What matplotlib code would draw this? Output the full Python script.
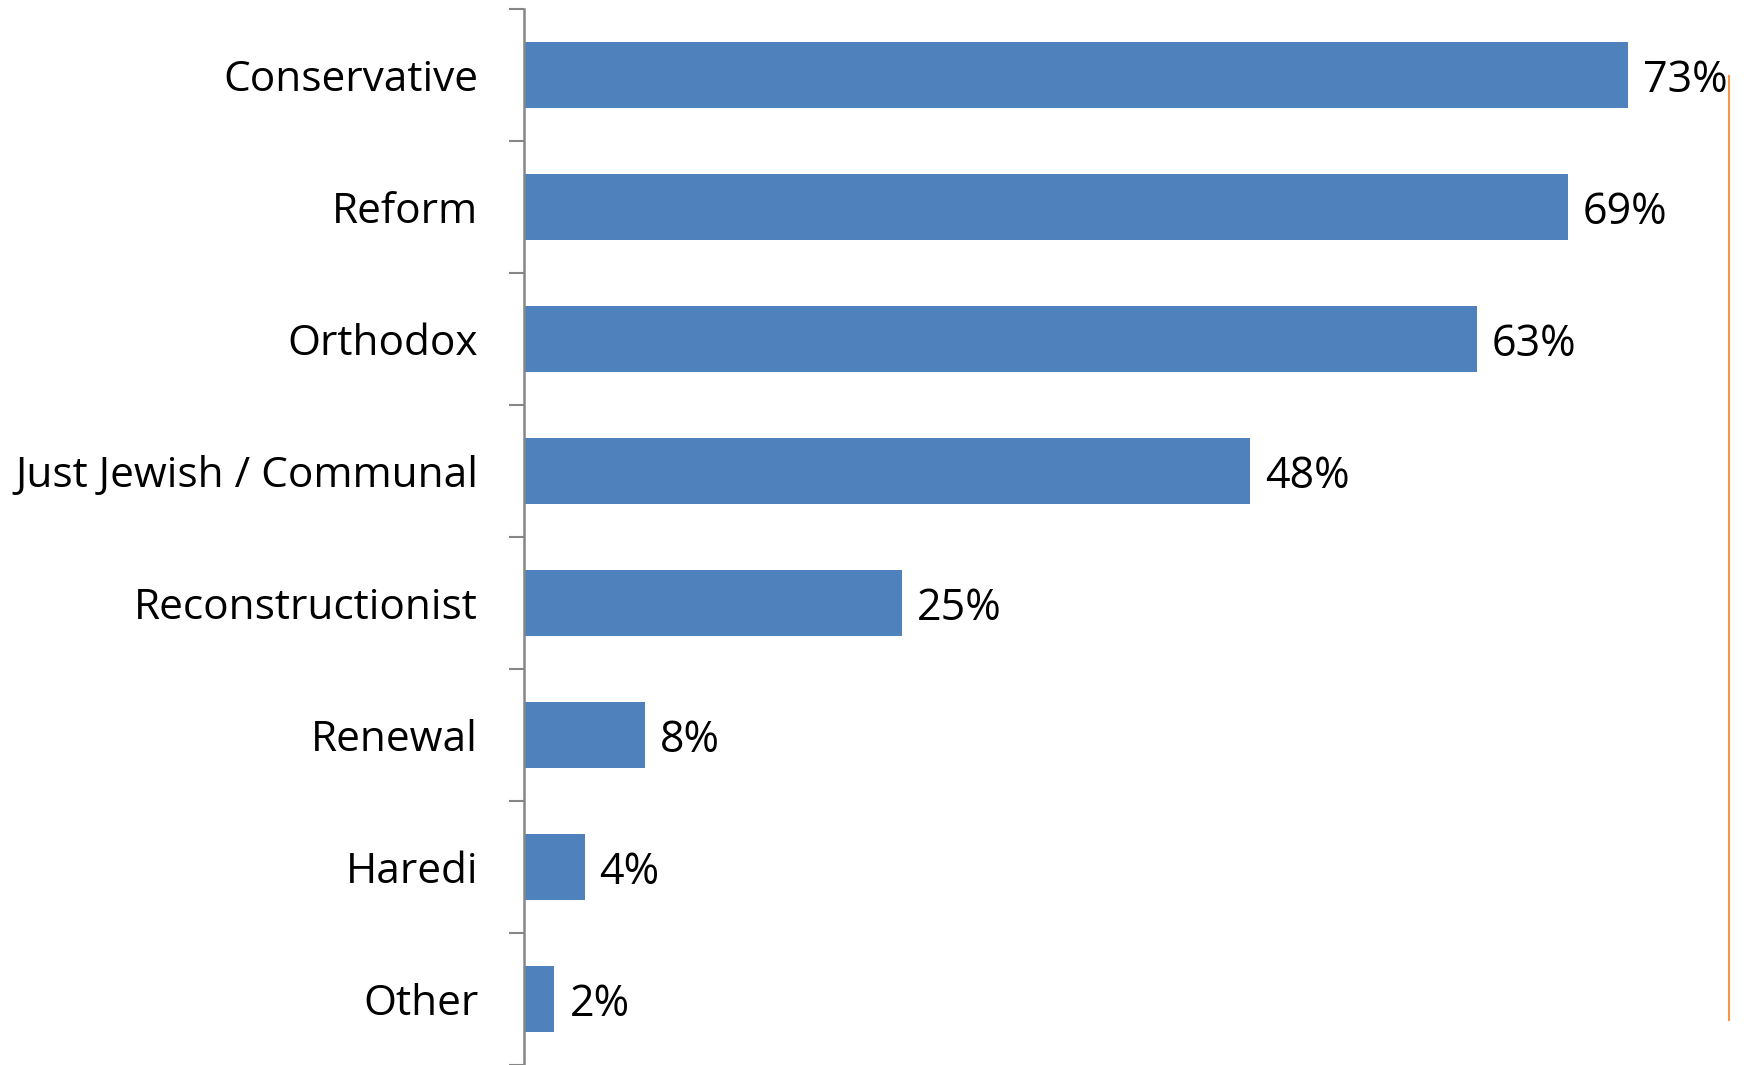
import matplotlib
matplotlib.use("Agg")
import matplotlib.pyplot as plt
import numpy as np

categories = ["Conservative", "Reform", "Orthodox", "Just Jewish / Communal",
              "Reconstructionist", "Renewal", "Haredi", "Other"]
values = [73, 69, 63, 48, 25, 8, 4, 2]
value_labels = ["73%", "69%", "63%", "48%", "25%", "8%", "4%", "2%"]

plt.rcParams["font.family"] = ["Open Sans", "DejaVu Sans"]

fig = plt.figure(figsize=(17.46, 10.65), dpi=100)
ax = fig.add_axes([524 / 1746, 0.0, 1210 / 1746, 1 - 9 / 1065])

n = len(categories)
y = np.arange(n)
ax.barh(y, values, height=0.5, color="#4F81BD")
ax.set_ylim(n - 0.5, -0.5)
ax.set_xlim(0, 80)

for yi, v, lab in zip(y, values, value_labels):
    ax.text(v + 1.0, yi + 0.04, lab, va="center", ha="left", fontsize=31, color="black")

# category labels on minor ticks, boundary ticks on major
ax.set_yticks(np.arange(-0.5, n, 1.0))
ax.set_yticklabels([])
ax.set_yticks(y, minor=True)
ax.set_yticklabels(categories, minor=True, fontsize=30.5)
ax.tick_params(axis="y", which="major", length=11, width=1.5, color="#868686")
ax.tick_params(axis="y", which="minor", length=0, pad=33)

ax.set_xticks([])
for s in ["top", "right", "bottom"]:
    ax.spines[s].set_visible(False)
ax.spines["left"].set_color("#868686")
ax.spines["left"].set_linewidth(1.8)

# thin orange line at right edge
fig.add_artist(plt.Line2D([1729 / 1746, 1729 / 1746], [1 - 76 / 1065, 1 - 1020 / 1065],
                          color="#F79646", linewidth=1.5, transform=fig.transFigure))

fig.savefig("out.png", dpi=100)
